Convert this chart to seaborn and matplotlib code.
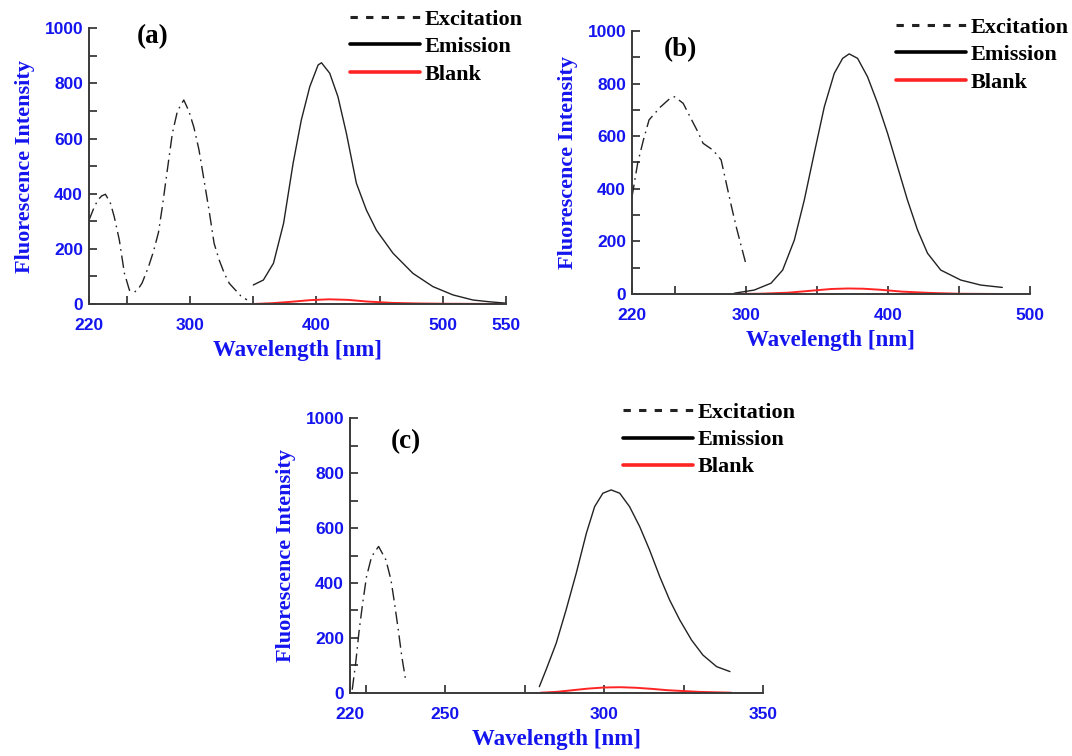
import matplotlib
matplotlib.use("Agg")
import matplotlib.pyplot as plt
from matplotlib.lines import Line2D
import seaborn as sns

# ---------------- data ----------------
ex_a_x = [220, 224, 227, 230, 233, 237, 240, 244, 248, 252, 256, 259, 262, 267, 271, 275, 278, 283, 286, 290, 295, 299, 303, 307, 311, 315, 319, 323, 327, 331, 336, 340, 345]
ex_a_y = [304, 350, 377, 392, 398, 365, 316, 232, 112, 50, 43, 55, 76, 134, 190, 260, 352, 520, 620, 700, 740, 700, 641, 560, 450, 340, 220, 160, 112, 75, 50, 30, 15]
em_a_x = [350, 358, 366, 374, 381.5, 388, 394.7, 401.3, 404, 410.5, 417, 423.7, 431.6, 439.5, 447.4, 460.6, 476.4, 492.2, 508, 523.8, 537, 550]
em_a_y = [69, 87, 148, 293, 510, 667, 788, 867, 875, 837, 752, 619, 438, 341, 268, 184, 111, 63, 33, 14.5, 8, 3]
bl_a_x = [350, 365, 380, 395, 410, 425, 440, 460, 480, 500, 550]
bl_a_y = [0, 3, 8, 14, 17, 15, 9, 4, 2, 1, 0]

ex_b_x = [220, 224, 228, 232, 240, 247, 250, 256, 261, 266, 270, 277, 282.7, 287.4, 290, 293.3, 300]
ex_b_y = [369, 498, 585, 662, 711, 745, 750, 725, 672, 620, 573, 547, 510, 395, 332, 256, 117]
em_b_x = [292, 306, 317.8, 326, 334.2, 341.2, 348.2, 355.3, 362.3, 368.2, 372.8, 378.7, 385.7, 392.8, 399.8, 406.8, 413.8, 420.9, 427.9, 437.2, 451.3, 465.3, 480.5]
em_b_y = [3, 15, 41, 91, 205, 357, 535, 712, 839, 896, 913, 896, 826, 725, 611, 484, 357, 243, 155, 91, 53, 34, 25]
bl_b_x = [292, 310, 330, 345, 360, 372, 383, 395, 410, 430, 450, 480]
bl_b_y = [0, 1, 5, 12, 19, 21, 20, 16, 9, 4, 1, 0]

ex_c_x = [220.7, 221.8, 222.9, 224, 225.2, 226.8, 229, 231.3, 232.9, 234, 235.2, 236.3, 237.5]
ex_c_y = [11, 109, 229, 327, 423, 496, 533, 484, 411, 327, 229, 132, 47]
em_c_x = [279.6, 281.7, 284.9, 288, 291.2, 294.4, 297, 299.6, 302.2, 304.9, 308, 311.2, 314.3, 317.5, 320.6, 323.8, 327.5, 331.1, 335.4, 339.6]
em_c_y = [22, 83, 180, 301, 435, 581, 678, 727, 739, 727, 678, 605, 520, 423, 338, 265, 192, 137, 95, 77]
bl_c_x = [280, 285, 290, 295, 300, 305, 310, 315, 320, 330, 340]
bl_c_y = [0, 3, 9, 15, 19, 20, 18, 14, 9, 3, 0]

panel_labels = ["(a)", "(b)", "(c)"]
legend_labels = ["Excitation", "Emission", "Blank"]
xticks_a = [220, 250, 300, 350, 400, 450, 500, 550]
xlabels_a = ["220", "", "300", "", "400", "", "500", "550"]
xticks_b = [220, 250, 300, 350, 400, 450, 500]
xlabels_b = ["220", "", "300", "", "400", "", "500"]
xticks_c = [220, 225, 250, 275, 300, 325, 350]
xlabels_c = ["220", "", "250", "", "300", "", "350"]
yticks = [0, 100, 200, 300, 400, 500, 600, 700, 800, 900, 1000]
ylabels = ["0", "", "200", "", "400", "", "600", "", "800", "", "1000"]

# ---------------- style ----------------
sns.set_style("ticks")
plt.rcParams["font.family"] = ["Liberation Serif", "DejaVu Serif"]
plt.rcParams["text.color"] = "black"

BLUE = "#1414ee"
SPINE = "#3a3a3a"
LINE = "#222222"
RED = "#ff2424"
DASHDOT = (0, (9, 3.5, 1.2, 3.5))
W, H = 1072, 756

fig = plt.figure(figsize=(W / 100, H / 100), dpi=100)

def rect(l, r, t, b):
    return [l / W, 1 - b / H, (r - l) / W, (b - t) / H]

panels = [
    dict(rect=rect(89, 506, 28.3, 304), xlim=(220, 550),
         ex=(ex_a_x, ex_a_y), em=(em_a_x, em_a_y), bl=(bl_a_x, bl_a_y),
         xt=xticks_a, xl=xlabels_a, leg=(350 / W, 1 - 9.5 / H), lab=(153 / W, 1 - 37 / H)),
    dict(rect=rect(632, 1030, 31, 294), xlim=(220, 500),
         ex=(ex_b_x, ex_b_y), em=(em_b_x, em_b_y), bl=(bl_b_x, bl_b_y),
         xt=xticks_b, xl=xlabels_b, leg=(896 / W, 1 - 17.5 / H), lab=(680 / W, 1 - 50 / H)),
    dict(rect=rect(350, 763, 418.3, 692.7), xlim=(220, 350),
         ex=(ex_c_x, ex_c_y), em=(em_c_x, em_c_y), bl=(bl_c_x, bl_c_y),
         xt=xticks_c, xl=xlabels_c, leg=(622.5 / W, 1 - 402.5 / H), lab=(405.5 / W, 1 - 442 / H)),
]

for i, p in enumerate(panels):
    ax = fig.add_axes(p["rect"])
    sns.lineplot(x=p["ex"][0], y=p["ex"][1], ax=ax, color=LINE, lw=1.0, linestyle=DASHDOT)
    sns.lineplot(x=p["em"][0], y=p["em"][1], ax=ax, color=LINE, lw=1.0,
                 solid_joinstyle="round")
    sns.lineplot(x=p["bl"][0], y=p["bl"][1], ax=ax, color=RED, lw=1.4,
                 solid_joinstyle="round")
    ax.set_xlim(*p["xlim"])
    ax.set_ylim(0, 1000)
    ax.set_xticks(p["xt"])
    ax.set_xticklabels(p["xl"])
    ax.set_yticks(yticks)
    ax.set_yticklabels(ylabels)
    for s in ["top", "right"]:
        ax.spines[s].set_visible(False)
    for s in ["left", "bottom"]:
        ax.spines[s].set_color(SPINE)
        ax.spines[s].set_linewidth(1.4)
    ax.tick_params(axis="both", direction="in", length=5.5, width=1.3, color=SPINE,
                   labelcolor=BLUE)
    ax.tick_params(axis="x", pad=10)
    ax.tick_params(axis="y", pad=4.3)
    for t in ax.get_xticklabels() + ax.get_yticklabels():
        t.set_family(["Liberation Sans", "DejaVu Sans"])
        t.set_fontweight("bold")
        t.set_fontsize(12.5)
    ax.set_xlabel("Wavelength [nm]", color=BLUE, fontsize=16.5, fontweight="bold", labelpad=5)
    ax.set_ylabel("Fluorescence Intensity", color=BLUE, fontsize=16, fontweight="bold", labelpad=7)

    handles = [
        Line2D([], [], color=LINE, lw=2.2, linestyle=(0, (2.4, 2.7))),
        Line2D([], [], color="black", lw=2.6),
        Line2D([], [], color=RED, lw=2.6),
    ]
    leg = ax.legend(handles, legend_labels, loc="upper left", bbox_to_anchor=p["leg"],
                    bbox_transform=fig.transFigure, frameon=False, borderpad=0,
                    borderaxespad=0, handlelength=3.15, handletextpad=0.22,
                    labelspacing=0.3, prop=dict(family="Liberation Serif", weight="bold", size=16))
    for t in leg.get_texts():
        t.set_color("black")
    fig.text(p["lab"][0], p["lab"][1], panel_labels[i], ha="center", va="center",
             fontsize=19.5, fontweight="bold", color="black")

fig.savefig("out.png", dpi=100)
